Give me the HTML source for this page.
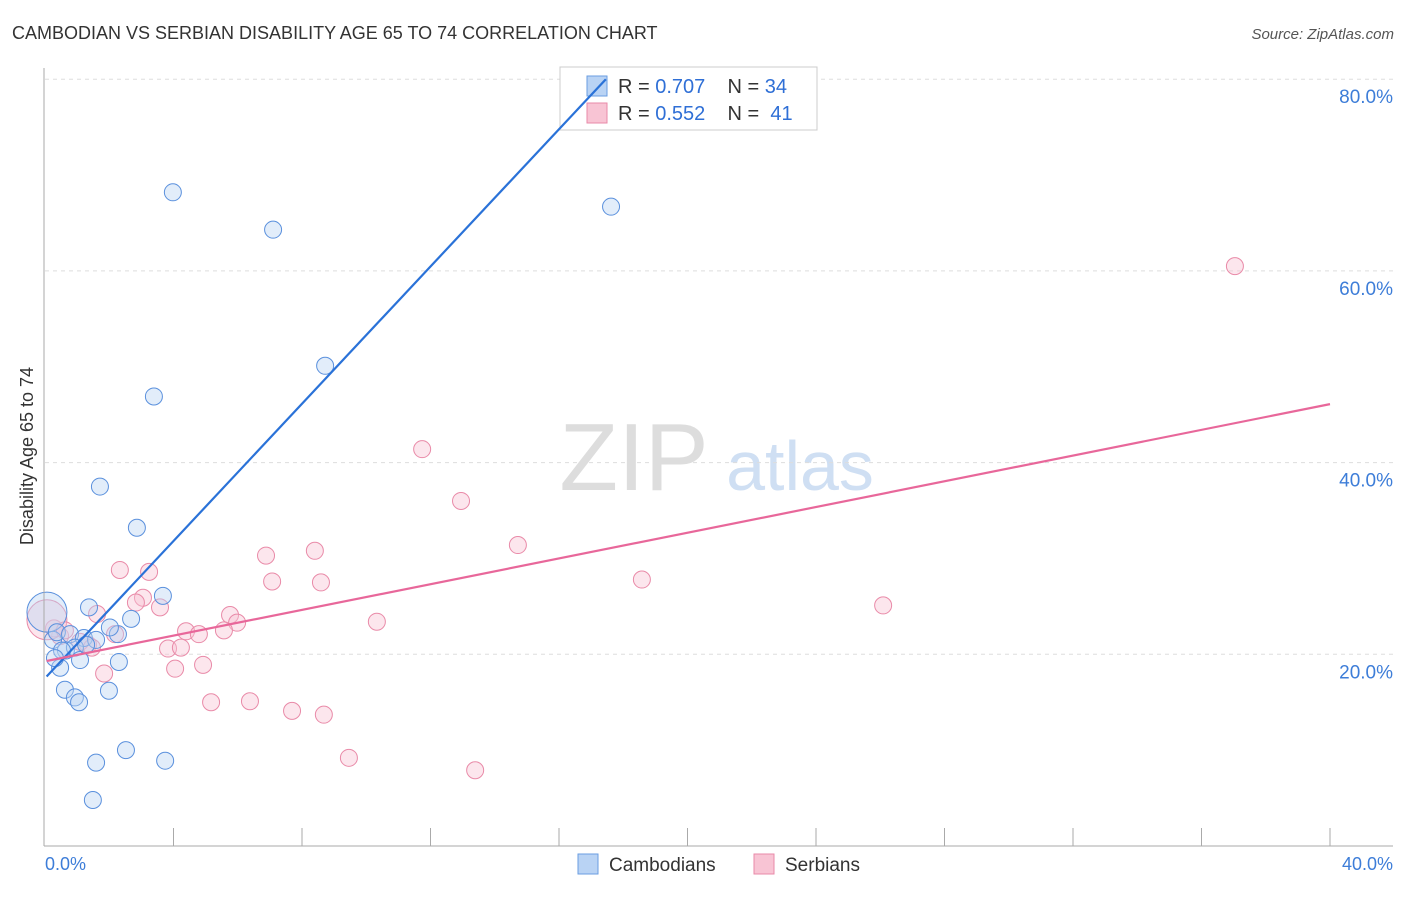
<!DOCTYPE html>
<html><head><meta charset="utf-8"><style>
body{margin:0;background:#fff;font-family:"Liberation Sans",sans-serif;}
svg text{font-family:"Liberation Sans",sans-serif;}
</style></head><body>
<svg id="c" width="1406" height="892" viewBox="0 0 1406 892">
<text x="12" y="39" font-size="18" fill="#333">CAMBODIAN VS SERBIAN DISABILITY AGE 65 TO 74 CORRELATION CHART</text>
<text x="1394" y="39" font-size="15" fill="#555" font-style="italic" text-anchor="end">Source: ZipAtlas.com</text>
<text x="634" y="490" font-size="96" fill="#ddd" font-family="Liberation Serif" text-anchor="middle">ZIP</text>
<text x="800" y="490" font-size="70" fill="#cfdff3" text-anchor="middle">atlas</text>
<text transform="translate(33,456) rotate(-90)" font-size="18" fill="#333" text-anchor="middle">Disability Age 65 to 74</text>
<g id="grid"></g><g id="pts"></g>
<line x1="44" y1="68" x2="44" y2="846" stroke="#aaa"/>
<line x1="44" y1="846" x2="1393" y2="846" stroke="#aaa"/>
<text x="45" y="870" font-size="18" fill="#3d7dd8">0.0%</text>
<text x="1393" y="870" font-size="18" fill="#3d7dd8" text-anchor="end">40.0%</text>
<g>
<rect x="560" y="67" width="257" height="63" fill="#fff" stroke="#ccc"/>
<rect x="587" y="76" width="20" height="20" fill="#b9d3f4" stroke="#6a9ee2"/>
<rect x="587" y="103" width="20" height="20" fill="#f8c4d4" stroke="#e98aa8"/>
<text x="618" y="93" font-size="20" fill="#333" xml:space="preserve">R = <tspan fill="#2f6fd6">0.707</tspan>    N = <tspan fill="#2f6fd6">34</tspan></text>
<text x="618" y="120" font-size="20" fill="#333" xml:space="preserve">R = <tspan fill="#2f6fd6">0.552</tspan>    N =  <tspan fill="#2f6fd6">41</tspan></text>
</g>
<g id="lines"></g>
<g>
<rect x="578" y="854" width="20" height="20" fill="#b9d3f4" stroke="#6a9ee2"/>
<text x="609" y="871" font-size="19" fill="#333">Cambodians</text>
<rect x="754" y="854" width="20" height="20" fill="#f8c4d4" stroke="#e98aa8"/>
<text x="785" y="871" font-size="19" fill="#333">Serbians</text>
</g>
</svg>
<script>
const yTicks=[20,40,60,80];
const xTicks=[4,8,12,16,20,24,28,32,36,40];
const camX=[3.98,7.10,17.62,8.72,3.39,1.71,2.86,3.67,1.37,2.68,2.27,2.02,0.06,0.25,0.37,0.78,1.21,1.59,0.65,0.93,1.09,0.47,2.30,0.62,0.93,1.06,1.99,2.52,1.59,3.74,1.49,0.53,1.28,0.31];
const camY=[68.2,64.3,66.7,50.1,46.9,37.5,33.2,26.1,24.9,23.7,22.1,22.8,24.4,21.5,22.3,22.1,21.7,21.5,20.4,20.7,19.4,18.6,19.2,16.3,15.5,15.0,16.2,10.0,8.7,8.9,4.8,20.4,21.0,19.6];
const serX=[37.04,11.74,12.95,14.72,6.88,8.40,7.07,8.59,18.58,26.09,2.33,3.24,3.05,2.83,3.58,1.62,5.76,5.98,10.33,4.39,4.79,5.57,2.18,3.83,4.23,1.34,0.47,0.28,0.06,1.84,4.05,4.92,5.17,6.38,7.69,8.68,9.46,13.39,1.09,0.62,1.46];
const serY=[60.5,41.4,36.0,31.4,30.3,30.8,27.6,27.5,27.8,25.1,28.8,28.6,25.9,25.4,24.9,24.2,24.1,23.3,23.4,22.4,22.1,22.5,22.1,20.6,20.7,21.0,21.9,22.7,23.6,18.0,18.5,18.9,15.0,15.1,14.1,13.7,9.2,7.9,21.3,22.5,20.7];
const camTrend=[17.5,3.58];
const serTrend=[19.3,0.67];
const X=v=>45+v*1285/40, Y=v=>846-v*191.7/20;
const NS='http://www.w3.org/2000/svg';
function mk(t,a,p){const e=document.createElementNS(NS,t);for(const k in a)e.setAttribute(k,a[k]);p.appendChild(e);return e;}
const g=document.getElementById('grid');
yTicks.forEach(t=>{
 const l=mk('line',{x1:45,x2:1393,y1:Y(t),y2:Y(t),stroke:'#ddd','stroke-dasharray':'4,4'},g);
 
 
 const tx=mk('text',{x:1393,y:Y(t)+24,'font-size':19,fill:'#3d7dd8','text-anchor':'end'},g);
 tx.textContent=t.toFixed(1)+'%';
 
 
});
xTicks.forEach(t=>{
 const l=mk('line',{x1:X(t),x2:X(t),y1:828,y2:846,stroke:'#aaa'},g);
 
 
});
const p=document.getElementById('pts');
function dots(xs,ys,fill,stroke,name){xs.forEach((x,i)=>{
 const r=(x<0.1)?20:8.5;
 const c=mk('circle',{cx:X(x),cy:Y(ys[i]),r:r,fill:fill,'fill-opacity':0.42,stroke:stroke,'stroke-width':1},p);
 
 
});}
dots(serX,serY,'#f8c4d4','#e98aa8','serbian-point');
dots(camX,camY,'#b9d3f4','#5a90dd','cambodian-point');
const L=document.getElementById('lines');
const cx2=(80-camTrend[0])/camTrend[1];
const bl=mk('line',{x1:X(0.05),y1:Y(camTrend[0]+0.05*camTrend[1]),x2:X(cx2),y2:Y(80),stroke:'#2a72d8','stroke-width':2.2},L);


const pl=mk('line',{x1:X(0.05),y1:Y(serTrend[0]),x2:X(40),y2:Y(serTrend[0]+40*serTrend[1]),stroke:'#e8679a','stroke-width':2.2},L);


</script>
</body></html>
